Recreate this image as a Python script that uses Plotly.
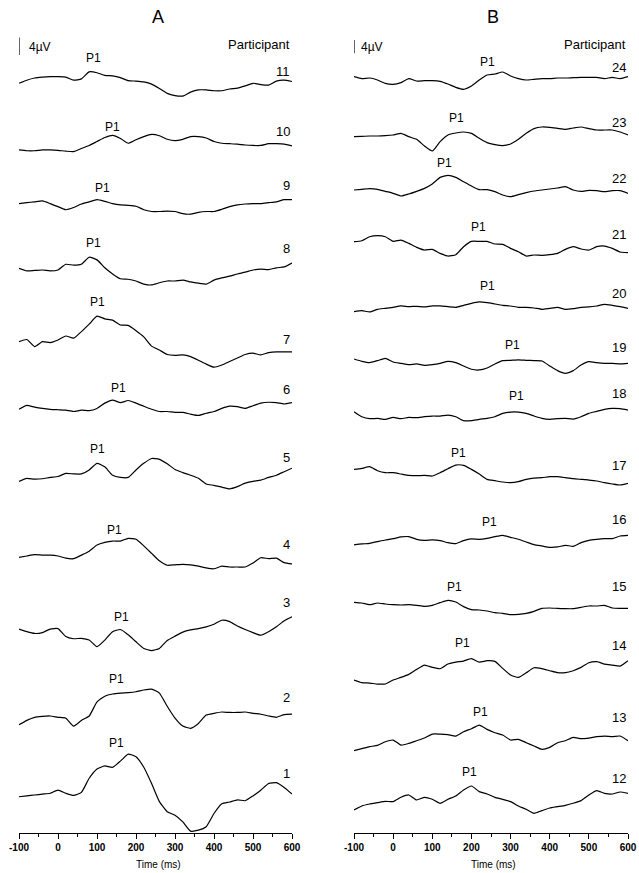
import plotly.graph_objects as go

# ---------------- data ----------------
time_ms = list(range(-100, 601, 20))  # sample times (ms)

# Panel A participants (amplitude in microvolts, positive = up)
p11 = [-1.2, -0.5, 0, 0.2, 0.3, 0.3, 0.2, -0.5, -0.2, 1.4, 1.2, 0.6, 0.5, 0.1, -0.6, -0.7, -0.9, -1.4, -2.4, -3.5, -4.0, -4.1, -3.2, -2.7, -2.7, -2.9, -2.9, -2.5, -2.3, -1.8, -1.2, -1.5, -1.6, -0.7, -0.5, -0.8]
p10 = [0.1, -0.1, -0.1, 0.1, 0.1, 0, -0.2, -0.3, 0.4, 1.1, 2.0, 2.9, 3.4, 2.7, 1.6, 2.4, 3.1, 3.6, 3.3, 2.5, 2.2, 2.5, 3.1, 3.1, 2.8, 2.0, 1.6, 1.5, 1.4, 1.2, 1.1, 1.1, 1.5, 1.5, 1.4, 1.0]
p09 = [-0.2, 0, 0.2, 0.4, -0.2, -0.9, -1.6, -1.1, -0.3, 0.2, 0.7, 0.3, -0.2, -0.5, -0.6, -0.8, -1.6, -2.0, -2.0, -1.9, -2.0, -2.5, -2.6, -2.2, -2.0, -2.0, -1.5, -0.9, -0.5, -0.3, -0.2, -0.2, 0, 0.2, 0.7, 0.7]
p08 = [0.4, -0.2, -0.1, 0, -0.2, 0, 1.3, 1.1, 1.3, 2.9, 2.3, 0.5, -0.9, -2.0, -2.1, -2.5, -3.2, -3.4, -2.9, -2.5, -2.5, -2.3, -2.7, -3.0, -3.2, -2.3, -1.8, -1.4, -0.9, -0.5, 0, 0.2, 0.1, 0.5, 0.7, 1.6]
p07 = [0, 0.5, -1.1, 0, -0.2, 0.4, 1.3, 0.8, 2.3, 4.0, 5.8, 5.2, 4.9, 3.8, 3.7, 2.5, 1.1, -1.0, -1.9, -2.9, -3.1, -3.0, -3.4, -4.2, -5.1, -5.8, -5.3, -4.5, -3.7, -2.9, -2.6, -3.0, -2.5, -2.3, -2.3, -2.3]
p06 = [0, 0.9, 0.5, 0.2, 0, -0.1, -0.2, -0.5, -0.2, -0.3, 0.2, 1.4, 2.1, 1.5, 2.0, 1.4, 0.7, 0, -0.5, -0.5, -0.7, -0.7, -1.1, -1.4, -0.9, -0.5, 0.2, 0.7, 0.6, 0.2, 0.8, 1.4, 1.6, 1.5, 1.2, 1.5]
p05 = [-0.7, 0, -0.2, -0.1, 0.2, 0.4, 1.1, 1.0, 1.0, 1.9, 3.4, 2.6, 0.7, 0.2, 0.2, 1.9, 3.4, 4.5, 4.3, 3.3, 2.0, 1.3, 0.7, 0, -1.3, -1.6, -2.0, -2.4, -1.9, -1.1, -0.7, -0.4, 0.2, 0.7, 1.5, 2.3]
p04 = [-0.3, 0, 0.3, 0.2, 0.2, 0, -0.5, -0.6, 0.2, 1.1, 2.5, 3.1, 3.4, 3.4, 4.0, 3.8, 2.3, 0.6, -1.1, -2.1, -2.0, -1.9, -2.0, -2.3, -2.7, -2.9, -2.3, -2.5, -2.5, -2.5, -1.6, -0.4, -0.6, -0.5, -1.5, -1.8]
p03 = [0.6, 0, -0.4, -0.2, 0.6, 0.7, -1.1, -1.6, -1.5, -1.9, -3.4, -1.9, 0, 0.5, -0.7, -2.3, -3.8, -4.3, -3.8, -2.0, -1.0, -0.1, 0.4, 0.7, 1.1, 1.7, 2.6, 2.3, 1.3, 0.5, -0.2, -0.8, 0, 1.1, 2.5, 3.4]
p02 = [-1.7, -0.7, 0, 0.2, 0.3, 0, -0.2, -2.0, -0.7, 0.3, 3.5, 4.8, 5.3, 5.5, 5.6, 5.8, 6.2, 6.4, 5.5, 2.5, -0.2, -2.0, -2.5, -1.4, 0.5, 0.9, 1.2, 1.1, 1.1, 1.2, 0.9, 0.7, 0.3, 0, 0.6, 0.7]
p01 = [-0.4, -0.2, 0, 0.2, 0.4, 1.1, 0.4, -0.1, 0.6, 3.8, 5.9, 6.6, 6.3, 7.7, 9.3, 8.7, 6.3, 2.6, -1.5, -3.8, -4.6, -6.1, -8.2, -8.0, -7.2, -4.2, -2.0, -1.6, -1.1, -1.3, -0.2, 1.1, 2.6, 2.8, 1.7, 0.2]

# Panel B participants
p24 = [1.0, 0.4, 0.6, 0, -1.0, -1.3, -0.8, 0.4, -0.3, -0.2, -0.2, -0.4, -1.2, -2.2, -2.8, -1.8, 0, 1.5, 1.8, 2.4, 1.2, 0.4, 0, 0.2, 0.4, 0.4, 0.6, 0.6, 0.7, 0.8, 0.8, 0.8, 0.4, 0.8, 0.4, 1.0]
p23 = [-0.2, -0.1, 0, 0, 0.1, 0.3, 0.8, -0.2, -1.0, -3.0, -4.5, -1.7, 0.3, 0.9, 1.2, 0.8, -0.7, -2.0, -2.6, -2.9, -2.4, -1.0, 0.8, 2.2, 2.7, 2.6, 2.3, 2.0, 2.4, 2.7, 2.2, 1.8, 1.8, 1.8, 1.2, 0.3]
p22 = [0, 0.2, 0.4, 0.2, -0.4, -1.0, -1.8, -1.2, -0.4, 0.5, 1.8, 3.8, 4.4, 3.8, 2.5, 1.2, 0.1, 0.1, -0.5, -1.5, -2.0, -1.4, -0.8, -0.3, 0, 0.3, 0.6, 1.0, 0, -0.4, -0.1, -0.2, -0.5, -0.2, -0.2, -1.0]
p21 = [0, 0.3, 1.5, 1.8, 1.5, 0.1, 0.5, -0.5, -1.7, -2.5, -2.3, -3.5, -4.3, -3.9, -1.5, 0.1, 0.1, 0.1, -0.7, -0.8, -2.0, -3.0, -4.3, -4.0, -4.1, -3.9, -3.5, -2.3, -1.5, -2.2, -2.5, -1.5, -1.3, -2.0, -3.1, -3.3]
p20 = [-1.0, -0.7, -1.1, -0.3, 0, 0.3, 0.7, 0.5, 0.6, 0.4, 0.7, 0.7, 0.5, 0.3, 0.9, 1.5, 1.9, 1.7, 1.3, 0.9, 0.7, 0.3, 0.3, 0.1, -0.3, 0, 0.3, -0.3, -0.1, 0.3, 0.4, 0.7, 1.2, 0.9, 0.5, 0]
p19 = [0.7, 0, -0.4, 0.2, 0.9, -0.2, -0.6, -1.0, -0.8, -1.2, -1.0, -0.6, 0, -0.4, -1.4, -2.4, -2.6, -2.0, -0.8, 0.2, 0.3, 0.4, 0.3, 0.2, 0.1, -1.4, -2.8, -3.6, -2.8, -1.1, -0.1, -0.4, -0.6, -0.6, -0.8, -0.6]
p18 = [1.5, 0, -0.6, -0.5, -0.8, -0.2, -0.6, -0.2, -0.3, 0, 0.2, 0.2, 0.5, 0, -1.2, -1.2, -0.8, -0.5, 0, 1.0, 1.4, 1.4, 1.0, 0.2, -0.5, -0.8, -0.6, -0.5, -0.7, 0, 1.0, 1.6, 2.2, 2.5, 2.4, 2.0]
p17 = [0.7, 1.0, 1.5, 0.3, -0.3, -0.3, -0.7, -1.1, -1.2, -1.1, -1.3, -0.3, 0.9, 2.0, 1.9, 0.7, -0.7, -2.3, -2.7, -3.1, -3.3, -3.0, -2.3, -1.9, -1.8, -1.5, -1.5, -1.8, -2.1, -2.3, -2.5, -2.8, -3.3, -3.7, -4.0, -3.5]
p16 = [-0.5, -0.2, 0, 0.5, 1.0, 1.4, 1.9, 2.0, 1.2, 0.9, 1.0, 0.8, 0.2, -0.1, 0.8, 1.3, 1.2, 1.5, 2.0, 2.4, 1.8, 1.2, 0.4, -0.4, -0.8, -1.2, -1.1, -0.6, -0.9, 0.2, 0.9, 1.2, 1.4, 1.4, 2.2, 2.4]
p15 = [0.5, 0.3, -0.2, 0.3, 0, -0.2, -0.3, -0.2, -0.4, -0.7, -0.4, 0.4, 1.1, 0.6, -0.8, -1.7, -1.8, -2.1, -2.6, -2.8, -3.2, -3.1, -2.8, -2.2, -1.3, -1.2, -1.3, -1.4, -1.4, -1.0, -0.6, -0.6, -0.4, -1.2, -1.3, -1.3]
p14 = [0.5, -0.3, -0.4, -0.7, -0.7, 0.5, 1.3, 2.2, 3.7, 5.0, 4.3, 3.9, 5.3, 5.9, 6.2, 6.9, 5.9, 6.3, 6.1, 4.0, 2.0, 1.3, 2.7, 4.2, 3.9, 3.3, 2.7, 2.7, 3.3, 4.3, 5.7, 6.0, 5.3, 5.0, 4.7, 6.3]
p13 = [-1.2, -0.6, 0, 0.4, 1.5, 2.0, 0.5, 1.0, 1.8, 2.6, 3.8, 3.8, 3.6, 3.2, 4.5, 5.4, 6.5, 5.2, 4.2, 3.5, 2.0, 2.2, 1.2, 0.2, -0.8, -0.2, 1.2, 1.8, 2.8, 2.4, 2.6, 3.0, 3.2, 3.0, 3.2, 1.8]
p12 = [-2.0, -0.8, -0.2, 0.2, 0.6, 0.5, 1.8, 2.5, 1.0, 1.8, 1.2, 0, 1.2, 2.2, 4.0, 5.2, 3.5, 2.8, 1.8, 1.2, 0.5, -0.8, -1.8, -3.0, -2.2, -1.4, -1.0, -0.6, 0, 0.8, 2.5, 3.8, 3.0, 2.8, 3.4, 3.0]

participants_A = [11, 10, 9, 8, 7, 6, 5, 4, 3, 2, 1]
participants_B = [24, 23, 22, 21, 20, 19, 18, 17, 16, 15, 14, 13, 12]
waves_A = [p11, p10, p09, p08, p07, p06, p05, p04, p03, p02, p01]
waves_B = [p24, p23, p22, p21, p20, p19, p18, p17, p16, p15, p14, p13, p12]

# P1 peak latency (ms) per participant, as labelled
p1_latency_A = [90, 141, 115, 90, 100, 154, 100, 144, 162, 151, 151]
p1_latency_B = [240, 163, 130, 219, 240, 304, 316, 168, 245, 158, 178, 224, 194]

x_ticks = [-100, 0, 100, 200, 300, 400, 500, 600]
x_minor = [-50, 50, 150, 250, 350, 450, 550]
scale_uv = 4

# ---------------- layout constants (pixels from top) ----------------
W, H = 639, 873
AXIS_PX = 833
PX_PER_UV_A = 4.4
PX_PER_UV_B = 3.33
baseline_A = [78, 150.3, 202.7, 270, 341.7, 409.3, 478.3, 556, 631.7, 717.3, 795]
baseline_B = [80, 136, 190, 241.7, 308.3, 361.3, 416.7, 471.7, 543.3, 604, 681.7, 746.7, 803.3]
p1_label_y_A = [58, 127, 188, 243, 302, 388, 449, 530, 617, 679, 743]
p1_label_y_B = [62, 118, 163, 227, 286, 345, 396, 453, 522, 587, 643, 712, 772]
num_y_A = [71, 131, 185, 248, 339, 389, 457, 544, 602, 697, 773]
num_y_B = [67, 122, 178, 234, 293, 347, 393, 465, 519, 586, 645, 717, 778]

FONT = "Arial, Liberation Sans, sans-serif"

fig = go.Figure()
ann = []


def add_panel(waves, parts, lat, base, p1y, numy, scale, xa):
    for w, b in zip(waves, base):
        fig.add_trace(go.Scatter(
            x=time_ms, y=[b - v * scale for v in w], mode="lines",
            line=dict(color="black", width=1.2, shape="spline", smoothing=0.5),
            xaxis=xa, yaxis="y", showlegend=False, hoverinfo="skip"))
    for p, l, y1, y2 in zip(parts, lat, p1y, numy):
        ann.append(dict(x=l, y=y1, xref=xa, yref="y", text="P1", showarrow=False,
                        xanchor="center", yanchor="middle", font=dict(size=12)))
        ann.append(dict(x=600, y=y2, xref=xa, yref="y", text=str(p), showarrow=False,
                        xanchor="right", yanchor="middle", font=dict(size=13)))


add_panel(waves_A, participants_A, p1_latency_A, baseline_A, p1_label_y_A, num_y_A, PX_PER_UV_A, "x")
add_panel(waves_B, participants_B, p1_latency_B, baseline_B, p1_label_y_B, num_y_B, PX_PER_UV_B, "x2")

# panel headers, scale bars, axis titles
for xa, title, xc, bar_bottom, scale, txt_x in [("x", "A", 158 / W, 55, PX_PER_UV_A, -80),
                                                ("x2", "B", 493 / W, 53.3, PX_PER_UV_B, -87)]:
    ann.append(dict(x=xc, y=17, xref="paper", yref="y", text=title, showarrow=False,
                    xanchor="center", yanchor="middle", font=dict(size=18)))
    ann.append(dict(x=600, y=44.5, xref=xa, yref="y", text="Participant", showarrow=False,
                    xanchor="right", yanchor="middle", font=dict(size=13)))
    ann.append(dict(x=txt_x, y=46.5, xref=xa, yref="y", text=f"{scale_uv}µV", showarrow=False,
                    xanchor="left", yanchor="middle", font=dict(size=12)))
    ann.append(dict(x=xc, y=-(864 - AXIS_PX) / AXIS_PX, xref="paper", yref="paper",
                    text="Time (ms)", showarrow=False,
                    xanchor="center", yanchor="middle", font=dict(size=10)))
    fig.add_shape(type="line", xref=xa, yref="y", x0=-100, x1=-100,
                  y0=bar_bottom, y1=bar_bottom - scale_uv * scale,
                  line=dict(color="black", width=1.2))

xaxis_common = dict(range=[-100, 600], tickmode="array", tickvals=x_ticks,
                    ticktext=[str(t) for t in x_ticks], ticks="outside", ticklen=5,
                    tickwidth=1, tickcolor="black", showline=True, linecolor="black",
                    linewidth=1, showgrid=False, zeroline=False, anchor="y",
                    automargin=False,
                    tickfont=dict(size=10, color="black", weight="bold"),
                    minor=dict(tickvals=x_minor, ticks="outside", ticklen=3,
                               tickcolor="black", tickwidth=1, showgrid=False))

fig.update_layout(
    width=W, height=H,
    margin=dict(l=0, r=0, t=0, b=H - AXIS_PX, pad=0, autoexpand=False),
    paper_bgcolor="white", plot_bgcolor="white",
    font=dict(family=FONT, color="black"),
    xaxis=dict(domain=[19 / W, 292 / W], **xaxis_common),
    xaxis2=dict(domain=[354 / W, 628 / W], **xaxis_common),
    yaxis=dict(range=[AXIS_PX, 0], visible=False, domain=[0, 1], automargin=False),
    annotations=ann,
    showlegend=False,
    hovermode=False,
)

fig.write_html("out.html", config={"displayModeBar": False, "staticPlot": True},
               post_script="document.body.style.margin='0';document.body.style.overflow='hidden';")
